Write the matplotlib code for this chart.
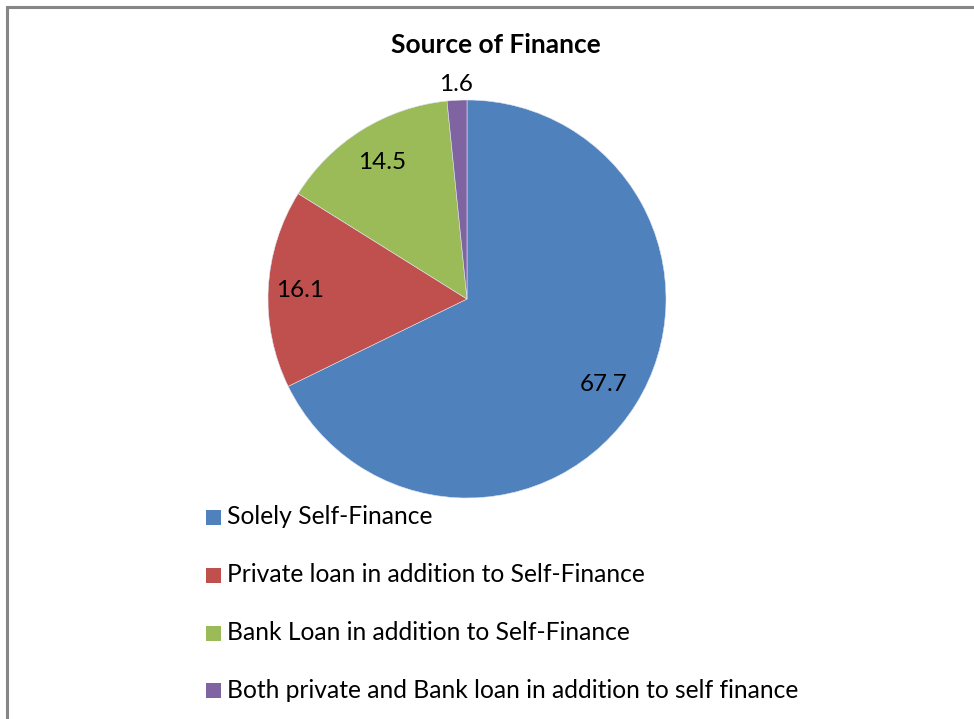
import numpy as np
import matplotlib.pyplot as plt
from matplotlib.patches import Rectangle

# shares of each finance source (percent)
categories = [
    "Solely Self-Finance",
    "Private loan in addition to Self-Finance",
    "Bank Loan in addition to Self-Finance",
    "Both private and Bank loan in addition to self finance",
]
shares = [67.7, 16.1, 14.5, 1.6]
colors = ["#4F81BD", "#C0504D", "#9BBB59", "#8064A2"]
label_dist = [0.81, 0.84, 0.81, 1.08]

plt.rcParams['font.family'] = ['Lato', 'DejaVu Sans']

W, H = 974, 719
fig = plt.figure(figsize=(W / 100, H / 100), dpi=100)
ax = fig.add_axes([0, 0, 1, 1])

cx, cy, r = 467, H - 299, 199
wedges, _ = ax.pie(shares, colors=colors, startangle=90, counterclock=False,
                   center=(cx, cy), radius=r,
                   wedgeprops=dict(linewidth=0.4, edgecolor='#dde4ee'))
ax.set_xlim(0, W)
ax.set_ylim(0, H)
ax.set_aspect('auto')
ax.axis('off')

for w, v, d in zip(wedges, shares, label_dist):
    mid = np.deg2rad((w.theta1 + w.theta2) / 2)
    ax.text(cx + d * r * np.cos(mid), cy + d * r * np.sin(mid), f"{v}",
            ha='center', va='center', fontsize=17.5, color='black')

ax.text(496, H - 45, "Source of Finance", ha='center', va='center',
        fontsize=19, fontweight='bold')

# legend rows drawn below the pie
rows_y = [517, 575, 633, 690]
for lab, col, y in zip(categories, colors, rows_y):
    ax.add_patch(Rectangle((206, H - y - 7.5), 15, 15, facecolor=col, edgecolor='none'))
    ax.text(227, H - y, lab, ha='left', va='center', fontsize=17.7)

# chart frame (left and top edges visible)
ax.plot([7, 7, W + 5], [-5, H - 7, H - 7], color='#868686', linewidth=2.2,
        solid_joinstyle='miter')

fig.savefig('out.png', dpi=100, facecolor='white')
